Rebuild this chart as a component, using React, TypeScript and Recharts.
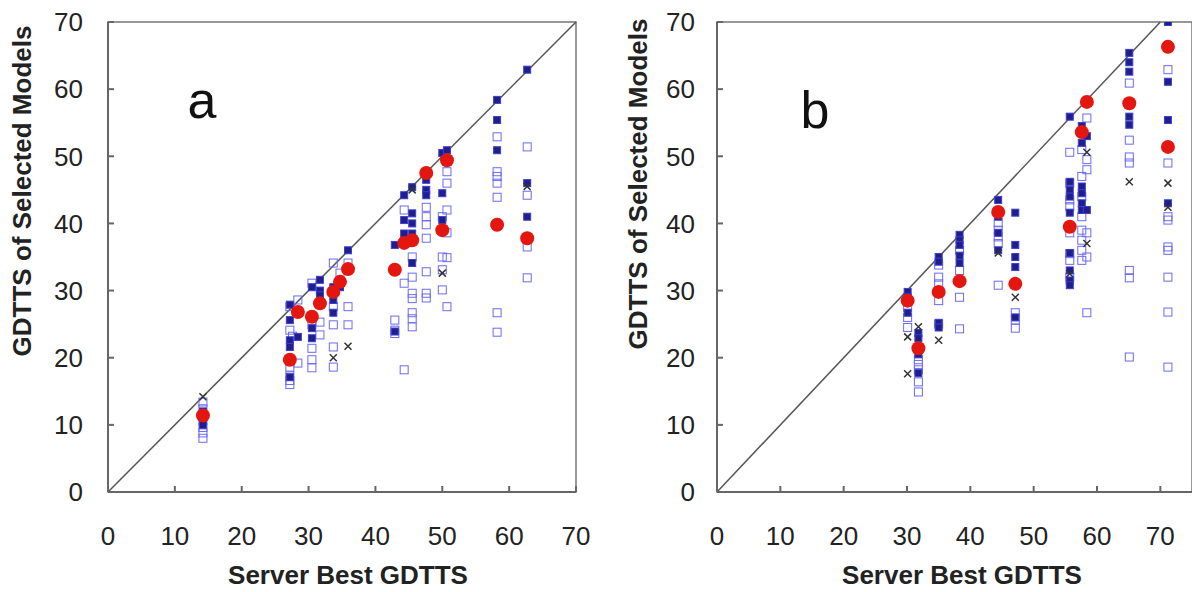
import React from "react";
import {
  ScatterChart,
  Scatter,
  XAxis,
  YAxis,
  ReferenceLine,
  ReferenceArea,
} from "recharts";

type Pt = [number, number];

const TICKS = [0, 10, 20, 30, 40, 50, 60, 70];

// panel a
const A_OPEN: Pt[] = [
  [14.2, 8.0], [14.2, 8.8], [14.2, 9.6], [14.2, 10.6], [14.2, 12.4], [14.2, 13.4],
  [27.2, 16.0], [27.2, 16.6], [27.2, 17.3], [27.2, 18.6], [27.2, 24.1], [27.2, 27.6], [27.6, 23.2],
  [28.4, 28.6], [28.4, 19.2],
  [30.5, 31.1], [30.5, 24.9], [30.5, 21.4], [30.5, 19.7], [30.5, 18.5],
  [31.7, 23.4], [31.7, 25.3],
  [33.7, 34.1], [33.7, 27.6], [33.7, 24.9], [33.7, 21.6], [33.7, 18.6],
  [34.7, 32.6],
  [35.9, 34.1], [35.9, 27.6], [35.9, 24.9],
  [42.9, 25.6], [42.9, 24.1], [42.9, 23.6],
  [44.3, 42.0], [44.3, 31.1], [44.3, 18.2],
  [45.5, 35.0], [45.5, 32.0], [45.5, 29.6], [45.5, 28.8], [45.5, 26.7], [45.5, 25.8], [45.5, 24.6],
  [47.6, 42.4], [47.6, 41.0], [47.6, 39.8], [47.6, 37.8], [47.6, 32.8], [47.6, 29.6], [47.6, 28.9],
  [50.0, 41.0], [50.0, 35.0], [50.0, 33.1], [50.0, 30.1],
  [50.7, 47.7], [50.7, 46.0], [50.7, 42.0], [50.7, 38.6], [50.7, 34.9], [50.7, 27.6],
  [58.2, 52.9], [58.2, 47.7], [58.2, 47.0], [58.2, 46.0], [58.2, 43.9], [58.2, 26.7], [58.2, 23.8],
  [62.7, 51.4], [62.7, 44.2], [62.7, 36.5], [62.7, 31.9],
];
const A_DARK: Pt[] = [
  [14.2, 10.0], [14.2, 11.0], [14.2, 12.0],
  [27.2, 27.9], [27.2, 25.6], [27.2, 22.6], [27.2, 21.6], [27.2, 17.1],
  [28.4, 23.1],
  [30.5, 30.5], [30.5, 24.4], [30.5, 22.9],
  [31.7, 31.6], [31.7, 30.0], [31.7, 29.3],
  [33.7, 30.5], [33.7, 28.6], [33.7, 26.7],
  [34.7, 30.5],
  [35.9, 36.0],
  [42.9, 36.8], [42.9, 23.9],
  [44.3, 44.2], [44.3, 40.5], [44.3, 38.5], [44.3, 37.1],
  [45.5, 45.4], [45.5, 41.5], [45.5, 40.0], [45.5, 38.5], [45.5, 34.1],
  [47.6, 46.5], [47.6, 45.0], [47.6, 44.2],
  [50.0, 50.5], [50.0, 44.5], [50.0, 40.5],
  [50.7, 50.9],
  [58.2, 58.4], [58.2, 55.4], [58.2, 50.9],
  [62.7, 62.9], [62.7, 46.0], [62.7, 41.0],
];
const A_CROSS: Pt[] = [
  [14.2, 14.2], [33.7, 20.0], [35.9, 21.7], [50.0, 32.6], [45.5, 45.0], [62.7, 45.5],
];
const A_RED: Pt[] = [
  [14.2, 11.4], [27.2, 19.7], [28.4, 26.8], [30.5, 26.1], [31.7, 28.1], [33.7, 29.8],
  [34.7, 31.3], [35.9, 33.2], [42.9, 33.1], [44.3, 37.1], [45.5, 37.5], [47.6, 47.5],
  [50.0, 39.0], [50.7, 49.4], [58.2, 39.8], [62.7, 37.8],
];

// panel b
const B_OPEN: Pt[] = [
  [30.1, 27.5], [30.1, 26.0], [30.1, 24.5],
  [31.8, 19.7], [31.8, 19.0], [31.8, 18.2], [31.8, 16.4], [31.8, 14.9],
  [35.0, 33.8], [35.0, 32.0], [35.0, 31.0], [35.0, 28.5], [35.0, 25.0],
  [38.3, 36.0], [38.3, 33.0], [38.3, 29.0], [38.3, 24.3],
  [44.4, 40.1], [44.4, 39.0], [44.4, 38.0], [44.4, 37.0], [44.4, 30.8],
  [47.1, 26.7], [47.1, 25.6], [47.1, 24.4],
  [55.7, 50.6], [55.7, 46.0], [55.7, 43.5], [55.7, 42.5], [55.7, 38.6], [55.7, 35.5], [55.7, 34.5], [55.7, 32.0],
  [57.6, 51.0], [57.6, 47.0], [57.6, 44.0], [57.6, 41.0], [57.6, 39.0], [57.6, 37.5], [57.6, 36.0], [57.6, 34.5],
  [58.4, 55.7], [58.4, 49.5], [58.4, 48.0], [58.4, 38.6], [58.4, 35.0], [58.4, 26.7],
  [65.1, 60.9], [65.1, 52.4], [65.1, 49.9], [65.1, 49.0], [65.1, 33.0], [65.1, 31.9], [65.1, 20.1],
  [71.2, 62.9], [71.2, 49.0], [71.2, 41.0], [71.2, 40.5], [71.2, 36.5], [71.2, 36.0], [71.2, 32.0], [71.2, 26.8], [71.2, 18.6],
];
const B_DARK: Pt[] = [
  [30.1, 29.8], [30.1, 29.0], [30.1, 26.7],
  [31.8, 23.7], [31.8, 22.9], [31.8, 20.5], [31.8, 17.7],
  [35.0, 35.0], [35.0, 34.3], [35.0, 30.0], [35.0, 25.2], [35.0, 24.5],
  [38.3, 38.3], [38.3, 37.5], [38.3, 36.8], [38.3, 35.2], [38.3, 34.1],
  [44.4, 43.5], [44.4, 41.0], [44.4, 38.6], [44.4, 36.0],
  [47.1, 41.6], [47.1, 36.8], [47.1, 35.0], [47.1, 33.5], [47.1, 26.0],
  [55.7, 55.9], [55.7, 46.2], [55.7, 45.0], [55.7, 44.0], [55.7, 41.6], [55.7, 35.6], [55.7, 33.0], [55.7, 31.5], [55.7, 30.8],
  [57.6, 54.5], [57.6, 52.0], [57.6, 45.5], [57.6, 44.5], [57.6, 43.0], [57.6, 42.0],
  [58.4, 58.4], [58.4, 53.0], [58.4, 42.0],
  [65.1, 65.4], [65.1, 64.0], [65.1, 62.6], [65.1, 55.9], [65.1, 54.7],
  [71.2, 70.0], [71.2, 61.1], [71.2, 55.4], [71.2, 43.0],
];
const B_CROSS: Pt[] = [
  [30.1, 23.1], [30.1, 17.6], [31.8, 24.6], [35.0, 22.6], [44.4, 35.6], [47.1, 29.0],
  [55.7, 32.5], [58.4, 50.6], [58.4, 37.0], [65.1, 46.2], [71.2, 46.0], [71.2, 42.4],
];
const B_RED: Pt[] = [
  [30.1, 28.5], [31.8, 21.4], [35.0, 29.8], [38.3, 31.4], [44.4, 41.7], [47.1, 31.0],
  [55.7, 39.5], [57.6, 53.6], [58.4, 58.1], [65.1, 57.9], [71.2, 66.3], [71.2, 51.4],
];

const FONT = "'Liberation Sans', Arial, sans-serif";
const AXIS = "#666";
const toXY = (pts: Pt[]) => pts.map(([x, y]) => ({ x, y }));

function OpenSquare(p: any) {
  return (
    <rect x={p.cx - 4} y={p.cy - 4} width={8} height={8} fill="none" stroke="#6a6af4" strokeWidth={1} />
  );
}
function DarkSquare(p: any) {
  return (
    <rect x={p.cx - 3.5} y={p.cy - 3.5} width={7} height={7} fill="#1f1f86" stroke="#3c3cd6" strokeWidth={1} />
  );
}
function Cross(p: any) {
  const { cx, cy } = p;
  return (
    <path
      d={`M${cx - 3.5},${cy - 3.5}L${cx + 3.5},${cy + 3.5}M${cx + 3.5},${cy - 3.5}L${cx - 3.5},${cy + 3.5}`}
      stroke="#333"
      strokeWidth={1.5}
      fill="none"
    />
  );
}
function RedDot(p: any) {
  return <circle cx={p.cx} cy={p.cy} r={7} fill="#e3170f" />;
}

interface PanelProps {
  width: number;
  xMax: number;
  marginLeft: number;
  marginRight: number;
  labelGap: number;
  open: Pt[];
  dark: Pt[];
  cross: Pt[];
  red: Pt[];
}

function Panel({ width, xMax, marginLeft, marginRight, labelGap, open, dark, cross, red }: PanelProps) {
  const tick = { fontSize: 26, fill: "#222", fontFamily: FONT };
  return (
    <ScatterChart
      width={width}
      height={592}
      margin={{ top: 22, right: marginRight, bottom: 40, left: marginLeft }}
    >
      <XAxis
        type="number"
        dataKey="x"
        domain={[0, xMax]}
        ticks={TICKS}
        interval={0}
        height={60}
        tick={tick}
        tickSize={-6}
        tickMargin={41}
        stroke={AXIS}
        strokeWidth={2}
        allowDataOverflow
      />
      <YAxis
        type="number"
        dataKey="y"
        domain={[0, 70]}
        ticks={TICKS}
        interval={0}
        width={80}
        tick={tick}
        tickSize={-6}
        tickMargin={labelGap}
        stroke={AXIS}
        strokeWidth={2}
        allowDataOverflow
      />
      <ReferenceArea x1={0} x2={xMax} y1={0} y2={70} fill="none" stroke="#777" strokeWidth={1.5} />
      <ReferenceLine
        segment={[{ x: 0, y: 0 }, { x: 70, y: 70 }]}
        stroke="#555"
        strokeWidth={1.5}
      />
      <Scatter data={toXY(open)} shape={OpenSquare} isAnimationActive={false} />
      <Scatter data={toXY(dark)} shape={DarkSquare} isAnimationActive={false} />
      <Scatter data={toXY(cross)} shape={Cross} isAnimationActive={false} />
      <Scatter data={toXY(red)} shape={RedDot} isAnimationActive={false} />
    </ScatterChart>
  );
}

export default function App() {
  const title = { fontFamily: FONT, fontSize: 26, fontWeight: 700, fill: "#222" } as const;
  const letter = { fontFamily: FONT, fontSize: 52, fill: "#111" } as const;
  return (
    <div style={{ position: "absolute", left: 0, top: 0, width: 1192, height: 592, background: "#fff", overflow: "hidden" }}>
      <div style={{ position: "absolute", left: 0, top: 0 }}>
        <Panel width={600} xMax={70} marginLeft={28} marginRight={24} labelGap={31}
          open={A_OPEN} dark={A_DARK} cross={A_CROSS} red={A_RED} />
      </div>
      <div style={{ position: "absolute", left: 600, top: 0 }}>
        <Panel width={592} xMax={75} marginLeft={37} marginRight={0} labelGap={28}
          open={B_OPEN} dark={B_DARK} cross={B_CROSS} red={B_RED} />
      </div>
      <svg width={1192} height={592} style={{ position: "absolute", left: 0, top: 0, pointerEvents: "none" }}>
        <text x={22} y={191} textAnchor="middle" dominantBaseline="central" transform="rotate(-90 22 191)" {...title}>
          GDTTS of Selected Models
        </text>
        <text x={348} y={584} textAnchor="middle" {...title}>Server Best GDTTS</text>
        <text x={638} y={184} textAnchor="middle" dominantBaseline="central" transform="rotate(-90 638 184)" {...title}>
          GDTTS of Selected Models
        </text>
        <text x={962} y={584} textAnchor="middle" {...title}>Server Best GDTTS</text>
        <text x={202} y={118} textAnchor="middle" {...letter}>a</text>
        <text x={815} y={128} textAnchor="middle" {...letter}>b</text>
      </svg>
    </div>
  );
}
